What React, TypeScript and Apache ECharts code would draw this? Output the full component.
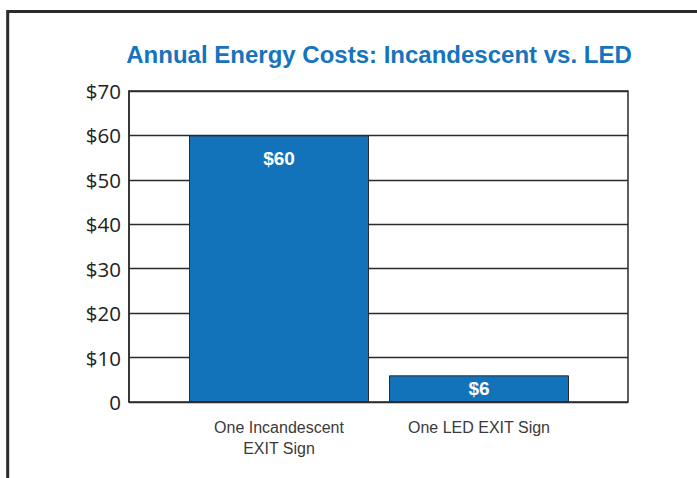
import React, { useEffect, useRef } from "react";
import * as echarts from "echarts";

const categories = ["One Incandescent\nEXIT Sign", "One LED EXIT Sign"];
const costs = [60, 6];
const yTicks = { min: 0, max: 70, interval: 10 };
const titleText = "Annual Energy Costs: Incandescent vs. LED";

const BLUE = "#1273bb";
const DARK = "#2b2b2b";

export default function App() {
  const ref = useRef<HTMLDivElement>(null);
  useEffect(() => {
    if (!ref.current) return;
    const chart = echarts.init(ref.current, undefined, { renderer: "svg" });
    chart.setOption({
      animation: false,
      backgroundColor: "#ffffff",
      title: {
        text: titleText,
        left: 379,
        textAlign: "center",
        top: 42,
        padding: 0,
        textStyle: {
          fontFamily: "Liberation Sans, Arial, sans-serif",
          fontWeight: "bold",
          fontSize: 24,
          color: "#1673bd",
        },
      },
      graphic: [
        {
          type: "polyline",
          shape: { points: [[710, 11.5], [7.7, 11.5], [7.7, 490]] },
          style: { stroke: DARK, lineWidth: 3, fill: "none" },
          z: 10,
        },
      ],
      grid: [
        { left: 129, top: 91, width: 499, height: 311, show: true, borderColor: DARK, borderWidth: 1.5, backgroundColor: "transparent" },
        { left: 179, top: 91, width: 400, height: 311 },
      ],
      xAxis: [
        { type: "value", gridIndex: 0, min: 0, max: 1, show: false },
        {
          type: "category",
          gridIndex: 1,
          data: categories,
          axisLine: { show: false },
          axisTick: { show: false },
          axisLabel: {
            margin: 15,
            fontFamily: "Liberation Sans, Arial, sans-serif",
            fontSize: 16,
            lineHeight: 21,
            color: "#3a3a3a",
          },
        },
      ],
      yAxis: [
        {
          type: "value",
          gridIndex: 0,
          min: yTicks.min,
          max: yTicks.max,
          interval: yTicks.interval,
          axisLine: { show: true, lineStyle: { color: DARK, width: 1.5 } },
          axisTick: { show: false },
          splitLine: { show: true, lineStyle: { color: DARK, width: 1.3 } },
          axisLabel: {
            margin: 8,
            fontFamily: "Open Sans, sans-serif",
            fontSize: 20.5,
            color: "#222",
            formatter: (v: number) => (v === 0 ? "0" : "$" + v),
          },
        },
        { type: "value", gridIndex: 1, min: yTicks.min, max: yTicks.max, show: false },
      ],
      series: [
        {
          type: "bar",
          xAxisIndex: 1,
          yAxisIndex: 1,
          barWidth: 180,
          data: costs.map((v, i) => ({
            value: v,
            label: i === 0 ? { position: "insideTop", distance: 14 } : { position: "inside" },
          })),
          itemStyle: { color: BLUE, borderColor: DARK, borderWidth: 1 },
          label: {
            show: true,
            formatter: (p: any) => "$" + p.value,
            color: "#ffffff",
            fontWeight: "bold",
            fontSize: 19,
            fontFamily: "Liberation Sans, Arial, sans-serif",
          },
          z: 3,
        },
      ],
    });
    return () => chart.dispose();
  }, []);
  return (
    <div
      ref={ref}
      style={{ position: "fixed", left: 0, top: 0, width: 697, height: 478 }}
    />
  );
}
